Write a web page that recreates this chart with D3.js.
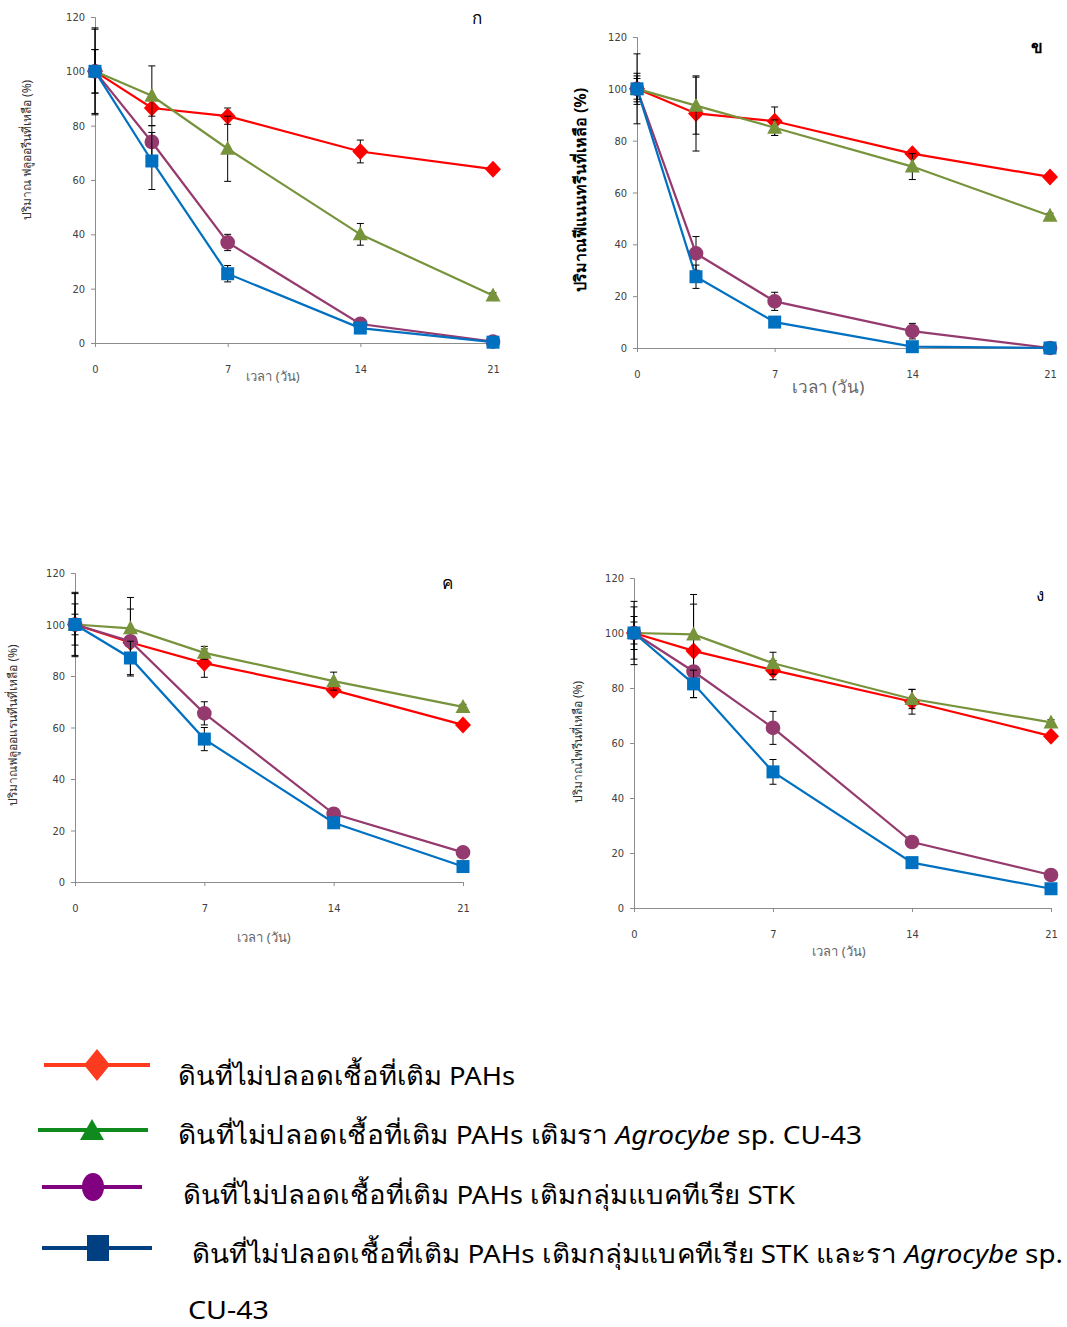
<!DOCTYPE html>
<html>
<head>
<meta charset="utf-8">
<script src="https://cdn.jsdelivr.net/npm/d3@7"></script>
<style>
  body { margin: 0; background: #fff; }
  svg { display: block; font-family: "Noto Sans", "DejaVu Sans", sans-serif; }
</style>
</head>
<body>
<script>
// sampling days (x values)
var days = [0, 3, 7, 14, 21];
var xTicks = [0, 7, 14, 21];
var yTicks = [0, 20, 40, 60, 80, 100, 120];

// series names (legend)
var seriesNames = [
  "ดินที่ไม่ปลอดเชื้อที่เติม PAHs",
  "ดินที่ไม่ปลอดเชื้อที่เติม PAHs เติมรา Agrocybe sp. CU-43",
  "ดินที่ไม่ปลอดเชื้อที่เติม PAHs เติมกลุ่มแบคทีเรีย STK",
  "ดินที่ไม่ปลอดเชื้อที่เติม PAHs เติมกลุ่มแบคทีเรีย STK และรา Agrocybe sp. CU-43"
];

// panel titles and y-axis labels
var panelTags = ["ก", "ข", "ค", "ง"];
var yLabels = [
  "ปริมาณ ฟลูออรีนที่เหลือ (%)",
  "ปริมาณฟีแนนทรีนที่เหลือ (%)",
  "ปริมาณฟลูออแรนทีนที่เหลือ (%)",
  "ปริมาณไพรีนที่เหลือ (%)"
];
var xLabel = "เวลา (วัน)";

// remaining amount (%) per panel: [red, green, purple, blue]
var fluoreneVals = [
  [100, 86.5, 83.5, 70.5, 64],
  [100, 91, 71.5, 40, 17.5],
  [100, 74, 37, 7, 0.5],
  [100, 67, 25.5, 5.5, 0.3]
];
var fluoreneErr = [
  [8, 3, 3, 4.2, 1],
  [16, 11, 12, 4, 1],
  [8, 6, 3, 1, 0.5],
  [15.5, 10.5, 3, 1, 0.5]
];
var phenanthreneVals = [
  [100, 90.5, 87.5, 75, 66],
  [100, 93.5, 85, 70, 51],
  [100, 36.5, 18, 6.5, 0],
  [100, 27.5, 10, 0.5, 0]
];
var phenanthreneErr = [
  [13.5, 14.5, 5.5, 1, 1],
  [6, 11, 3, 5, 1],
  [5, 6.5, 3.5, 3, 0.5],
  [4, 4.5, 1, 0.5, 0.5]
];
var fluorantheneVals = [
  [100, 93, 85, 74.5, 61],
  [100, 98.5, 89, 78, 68],
  [100, 93.5, 65.5, 26.5, 11.5],
  [100, 87, 55.5, 23, 6]
];
var fluorantheneErr = [
  [8, 13, 5.5, 1.5, 1],
  [12, 12, 2.5, 3.5, 1],
  [4, 2, 4.5, 1.5, 1],
  [12.5, 6.5, 4.5, 1, 1]
];
var pyreneVals = [
  [100, 93.5, 86.5, 75, 62.5],
  [100, 99.5, 89, 76, 67.5],
  [100, 86, 65.5, 24, 12],
  [100, 81.5, 49.5, 16.5, 7]
];
var pyreneErr = [
  [9.5, 17, 3.5, 4.5, 1],
  [6, 14.5, 4, 3.5, 1],
  [4, 2, 6, 1.5, 1],
  [11.5, 5, 4.5, 1, 1]
];

var allVals = [fluoreneVals, phenanthreneVals, fluorantheneVals, pyreneVals];
var allErr = [fluoreneErr, phenanthreneErr, fluorantheneErr, pyreneErr];

// look
var lineColors = ["#ff0000", "#77933c", "#953a6e", "#0070c0"];
var legendColors = ["#ff3b1f", "#0f8a1c", "#800080", "#003f80"];

// plot markers drawn around (0,0)
var markerPaths = [
  "M0,-8.5L8,0L0,8.5L-8,0Z",
  "M0,-8L7.5,6L-7.5,6Z",
  d3.symbol().type(d3.symbolCircle).size(170)(),
  "M-6.5,-6.5H6.5V6.5H-6.5Z"
];

// panel placement (pixel frame of each plot area)
var frames = [
  {x0: 95, x1: 493, y0: 343, y1: 17, tag: [477, 24], yl: [31, 150], xl: [273, 381], big: false},
  {x0: 637, x1: 1050, y0: 348, y1: 37, tag: [1037, 53], yl: [586, 190], xl: [828, 393], big: true},
  {x0: 75, x1: 463, y0: 882, y1: 573, tag: [447, 589], yl: [17, 725], xl: [264, 942], big: false},
  {x0: 634, x1: 1051, y0: 908, y1: 578, tag: [1040, 601], yl: [582, 742], xl: [839, 956], big: false}
];

var svg = d3.select("body").append("svg")
  .attr("width", 1067)
  .attr("height", 1327);

frames.forEach(function(f, p) {
  var x = d3.scaleLinear().domain([0, 21]).range([f.x0, f.x1]);
  var y = d3.scaleLinear().domain([0, 120]).range([f.y0, f.y1]);
  var g = svg.append("g");

  // axes
  var yAxis = g.append("g")
    .attr("transform", "translate(" + f.x0 + ",0)")
    .call(d3.axisLeft(y).tickValues(yTicks).tickSize(4).tickPadding(6));
  var xAxis = g.append("g")
    .attr("transform", "translate(0," + f.y0 + ")")
    .call(d3.axisBottom(x).tickValues(xTicks).tickSize(4).tickPadding(18));
  [yAxis, xAxis].forEach(function(a) {
    a.selectAll("path, line").attr("stroke", "#8c8c8c");
    a.selectAll("text")
      .attr("fill", "#404040")
      .style("font-family", "'Liberation Sans Narrow', 'DejaVu Sans Condensed', sans-serif")
      .style("font-size", "11px");
  });

  // axis titles
  g.append("text")
    .attr("transform", "translate(" + f.yl[0] + "," + f.yl[1] + ") rotate(-90)")
    .attr("text-anchor", "middle")
    .attr("fill", f.big ? "#000" : "#333")
    .style("font-size", f.big ? "16px" : "12px")
    .style("font-weight", f.big ? "bold" : "normal")
    .text(yLabels[p]);
  g.append("text")
    .attr("x", f.xl[0]).attr("y", f.xl[1])
    .attr("text-anchor", "middle")
    .attr("fill", "#666")
    .style("font-size", f.big ? "17px" : "13px")
    .text(xLabel);
  g.append("text")
    .attr("x", f.tag[0]).attr("y", f.tag[1])
    .attr("text-anchor", "middle")
    .attr("fill", "#000")
    .style("font-size", "17px")
    .style("font-weight", f.big ? "bold" : "normal")
    .text(panelTags[p]);

  var line = d3.line()
    .x(function(d, i) { return x(days[i]); })
    .y(function(d) { return y(d); });

  allVals[p].forEach(function(vals, s) {
    var err = allErr[p][s];
    var sg = g.append("g");

    sg.append("path")
      .datum(vals)
      .attr("d", line)
      .attr("fill", "none")
      .attr("stroke", lineColors[s])
      .attr("stroke-width", 2.2);

    // error bars
    var eb = sg.selectAll(".eb").data(vals).enter().append("g");
    eb.append("line")
      .attr("x1", function(d, i) { return x(days[i]); })
      .attr("x2", function(d, i) { return x(days[i]); })
      .attr("y1", function(d, i) { return y(d + err[i]); })
      .attr("y2", function(d, i) { return y(d - err[i]); })
      .attr("stroke", "#000").attr("stroke-width", 1);
    [1, -1].forEach(function(sign) {
      eb.append("line")
        .attr("x1", function(d, i) { return x(days[i]) - 3.5; })
        .attr("x2", function(d, i) { return x(days[i]) + 3.5; })
        .attr("y1", function(d, i) { return y(d + sign * err[i]); })
        .attr("y2", function(d, i) { return y(d + sign * err[i]); })
        .attr("stroke", "#000").attr("stroke-width", 1);
    });

    // markers
    sg.selectAll(".mk").data(vals).enter().append("path")
      .attr("transform", function(d, i) { return "translate(" + x(days[i]) + "," + y(d) + ")"; })
      .attr("d", markerPaths[s])
      .attr("fill", lineColors[s]);
  });
});

// legend
var legendRows = [
  {y: 1065, lx0: 44, lx1: 150, mx: 97, tx: 178, ty: 1085, tw: 337},
  {y: 1130, lx0: 38, lx1: 148, mx: 92, tx: 178, ty: 1144, tw: 684},
  {y: 1187, lx0: 42, lx1: 142, mx: 93, tx: 183, ty: 1204, tw: 612},
  {y: 1248, lx0: 42, lx1: 152, mx: 98, tx: 192, ty: 1263, tw: 871}
];
var legend = svg.append("g");
legendRows.forEach(function(r, s) {
  legend.append("line")
    .attr("x1", r.lx0).attr("x2", r.lx1)
    .attr("y1", r.y).attr("y2", r.y)
    .attr("stroke", legendColors[s]).attr("stroke-width", 4);
  var mk = legend.append("g").attr("transform", "translate(" + r.mx + "," + r.y + ")");
  if (s === 0) {
    mk.append("path").attr("d", "M0,-16L13,0L0,16L-13,0Z").attr("fill", legendColors[s]);
  } else if (s === 1) {
    mk.append("path").attr("d", "M0,-11L12,10L-12,10Z").attr("fill", legendColors[s]);
  } else if (s === 2) {
    mk.append("ellipse").attr("rx", 11).attr("ry", 14).attr("fill", legendColors[s]);
  } else {
    mk.append("rect").attr("x", -11).attr("y", -13).attr("width", 22).attr("height", 26).attr("fill", legendColors[s]);
  }

  var name = seriesNames[s];
  if (s === 3) name = name.replace(" CU-43", "");
  var t = legend.append("text")
    .attr("x", r.tx).attr("y", r.ty)
    .attr("fill", "#000")
    .style("font-size", "26px")
    .attr("textLength", r.tw)
    .attr("lengthAdjust", "spacingAndGlyphs");
  var parts = name.split("Agrocybe");
  t.append("tspan").text(parts[0]);
  if (parts.length > 1) {
    t.append("tspan").style("font-style", "italic").text("Agrocybe");
    t.append("tspan").text(parts[1]);
  }
});
legend.append("text")
  .attr("x", 188).attr("y", 1319)
  .attr("fill", "#000")
  .style("font-size", "25px")
  .attr("textLength", 81)
  .attr("lengthAdjust", "spacingAndGlyphs")
  .text("CU-43");
</script>
</body>
</html>
